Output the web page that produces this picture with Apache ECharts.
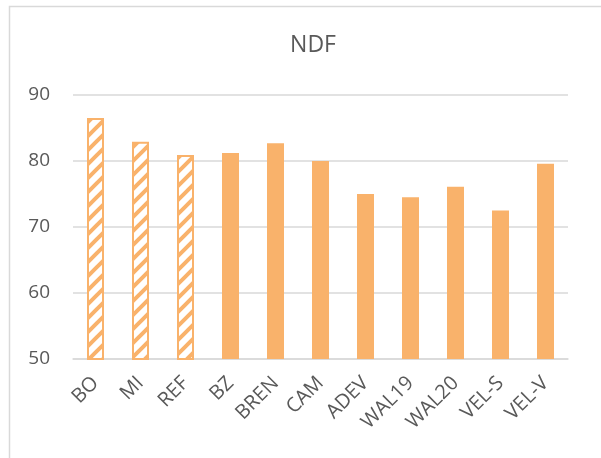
<!DOCTYPE html>
<html>
<head>
<meta charset="utf-8">
<script src="https://cdn.jsdelivr.net/npm/echarts@6/dist/echarts.min.js"></script>
<style>html,body{margin:0;padding:0;background:#fff}#c{width:601px;height:458px}</style>
</head>
<body>
<div id="c"></div>
<script>
var categories = ['BO', 'MI', 'REF', 'BZ', 'BREN', 'CAM', 'ADEV', 'WAL19', 'WAL20', 'VEL-S', 'VEL-V'];
var values = [86.5, 82.9, 80.9, 81.2, 82.7, 80.0, 75.0, 74.5, 76.1, 72.5, 79.6];
var hatched = [true, true, true, false, false, false, false, false, false, false, false];
var yTicks = [50, 60, 70, 80, 90];
var titleText = 'NDF';

var ORANGE = '#F9B26B';
var FONT = '"Open Sans", "Noto Sans", sans-serif';

function makeHatch() {
  var s = 14;
  var c = document.createElement('canvas');
  c.width = s; c.height = s;
  var g = c.getContext('2d');
  g.fillStyle = '#fff';
  g.fillRect(0, 0, s, s);
  g.strokeStyle = ORANGE;
  g.lineWidth = 4;
  g.beginPath();
  for (var k = -1; k <= 1; k++) {
    g.moveTo(-2 + k * s, s + 2);
    g.lineTo(s + 2 + k * s, -2);
  }
  g.stroke();
  return c;
}
var hatchCanvas = makeHatch();

var data = categories.map(function (c, i) {
  if (hatched[i]) {
    return {
      value: values[i],
      itemStyle: {
        color: { image: hatchCanvas, repeat: 'repeat' },
        borderColor: ORANGE,
        borderWidth: 2
      }
    };
  }
  return { value: values[i], itemStyle: { color: ORANGE } };
});

var chart = echarts.init(document.getElementById('c'), null, { renderer: 'canvas' });
chart.setOption({
  animation: false,
  backgroundColor: '#fff',
  title: {
    text: titleText,
    left: 308,
    top: 29,
    textAlign: 'center',
    textStyle: { fontFamily: FONT, fontSize: 23, fontWeight: 'normal', color: '#595959' }
  },
  graphic: [{
    type: 'rect',
    shape: { x: 9.5, y: 6.5, width: 700, height: 600 },
    style: { fill: 'none', stroke: '#d9d9d9', lineWidth: 1.5 },
    silent: true
  }],
  grid: { left: 73, right: 33, top: 95, bottom: 99 },
  xAxis: {
    type: 'category',
    data: categories,
    axisLine: { lineStyle: { color: '#d9d9d9', width: 1.5 } },
    axisTick: { show: false },
    axisLabel: { rotate: 45, margin: 21, fontFamily: FONT, fontSize: 20, color: '#595959', interval: 0 }
  },
  yAxis: {
    type: 'value',
    min: yTicks[0],
    max: yTicks[yTicks.length - 1],
    interval: 10,
    axisLine: { show: false },
    axisTick: { show: false },
    splitLine: { lineStyle: { color: '#d9d9d9', width: 1.5 } },
    axisLabel: { margin: 23, fontFamily: FONT, fontSize: 19, color: '#595959' }
  },
  series: [{
    type: 'bar',
    data: data,
    barWidth: 17
  }]
});
</script>
</body>
</html>
